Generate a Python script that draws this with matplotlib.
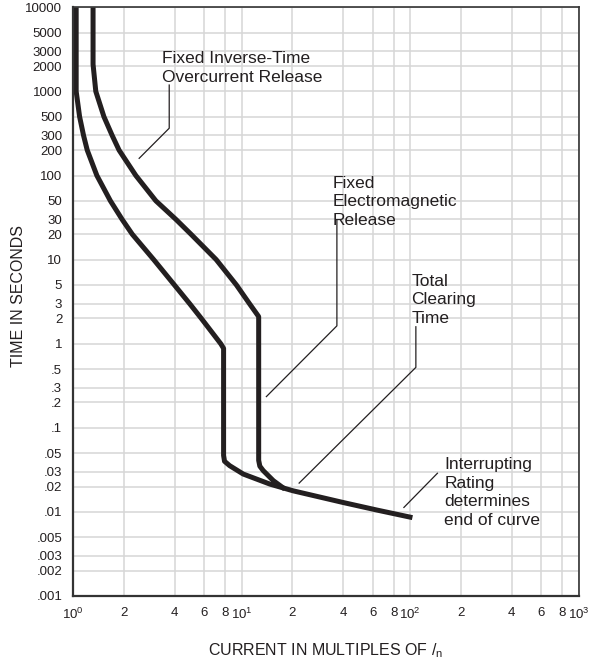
import matplotlib
matplotlib.use("Agg")
import matplotlib.pyplot as plt

plt.rcParams['font.family'] = ['Liberation Sans', 'DejaVu Sans']
ink = '#231f20'

# trip curve, lower band edge (multiples of In, seconds)
lower_x = [1.04, 1.04, 1.09, 1.15, 1.21, 1.38, 1.66, 1.95, 2.24, 3.0, 3.98, 4.9, 5.75, 7.5, 7.8,
           7.8, 7.9, 8.47, 10.2, 14.7, 20.2, 40.2, 63.7, 103]
lower_y = [10000, 1000, 500, 300, 200, 100, 50, 30, 20, 10, 5, 3, 2, 1, 0.88,
           0.047, 0.040, 0.0355, 0.0282, 0.0214, 0.0178, 0.0129, 0.0105, 0.00855]

# upper band edge
upper_x = [1.31, 1.31, 1.36, 1.52, 1.70, 1.87, 2.35, 3.09, 4.07, 5.00, 7.05, 9.29, 11.1, 12.6,
           12.6, 12.8, 13.4, 15.4, 18.0]
upper_y = [10000, 2100, 1000, 500, 300, 200, 100, 50, 30, 20, 10, 5, 3, 2.1,
           0.041, 0.035, 0.031, 0.0235, 0.0187]

# axis ticks
x_ticks = [1, 2, 4, 6, 8, 10, 20, 40, 60, 80, 100, 200, 400, 600, 800, 1000]
x_labels = [r'10$^\mathregular{0}$', '2', '4', '6', '8', r'10$^\mathregular{1}$',
            '2', '4', '6', '8', r'10$^\mathregular{2}$', '2', '4', '6', '8', r'10$^\mathregular{3}$']
y_ticks = [10000, 5000, 3000, 2000, 1000, 500, 300, 200, 100, 50, 30, 20, 10, 5, 3, 2, 1,
           0.5, 0.3, 0.2, 0.1, 0.05, 0.03, 0.02, 0.01, 0.005, 0.003, 0.002, 0.001]
y_labels = ['10000', '5000', '3000', '2000', '1000', '500', '300', '200', '100', '50', '30',
            '20', '10', '5', '3', '2', '1', '.5', '.3', '.2', '.1', '.05', '.03', '.02', '.01',
            '.005', '.003', '.002', '.001']

# callouts: text, text anchor, leader polyline
notes = ['Fixed Inverse-Time\nOvercurrent Release',
         'Fixed\nElectromagnetic\nRelease',
         'Total\nClearing\nTime',
         'Interrupting\nRating\ndetermines\nend of curve']
note_xy = [(3.36, 2990), (34.6, 100), (101.6, 6.8), (159, 0.045)]
leader_x = [[3.71, 3.71, 2.46], [36.7, 36.7, 14.0], [108, 108, 21.9], [145, 91.7]]
leader_y = [[1190, 365, 160], [29.4, 1.63, 0.235], [1.59, 0.523, 0.022], [0.0288, 0.0113]]

fig = plt.figure(figsize=(5.93, 6.66), dpi=100)
ax = fig.add_axes([73.3 / 593, 1 - 596 / 666, (578.7 - 73.3) / 593, (596 - 7.3) / 666])
ax.set_xscale('log')
ax.set_yscale('log')
ax.set_xlim(1, 1000)
ax.set_ylim(0.001, 10000)

ax.set_xticks(x_ticks)
ax.set_xticklabels(x_labels)
ax.set_yticks(y_ticks)
ax.set_yticklabels(y_labels)
ax.minorticks_off()
ax.tick_params(axis='x', length=0, pad=8, labelsize=9.5, colors=ink)
ax.tick_params(axis='y', length=0, pad=8, labelsize=9.5, colors=ink)
ax.grid(True, color='#d6d6d6', lw=1.1)
ax.set_axisbelow(True)
for s in ax.spines.values():
    s.set_color('#333333')
    s.set_linewidth(1.2)
ax.spines['left'].set_linewidth(1.6)
ax.spines['bottom'].set_linewidth(1.6)

ax.plot(lower_x, lower_y, color=ink, lw=3.6, solid_joinstyle='round', solid_capstyle='butt')
ax.plot(upper_x, upper_y, color=ink, lw=3.6, solid_joinstyle='round', solid_capstyle='butt')

for lx, ly in zip(leader_x, leader_y):
    ax.plot(lx, ly, color=ink, lw=0.9)
for txt, (tx, ty) in zip(notes, note_xy):
    ax.text(tx, ty, txt, fontsize=12.5, color=ink, ha='left', va='top', linespacing=1.3)

ax.set_ylabel('TIME IN SECONDS', fontsize=11.5, color=ink, va='center')
ax.yaxis.set_label_coords(-0.109, 0.51)
ax.set_xlabel(r'CURRENT IN MULTIPLES OF /$_\mathregular{n}$', fontsize=11.5, color=ink, va='center')
ax.xaxis.set_label_coords(0.5, -0.093)

fig.savefig('out.png', dpi=100)
